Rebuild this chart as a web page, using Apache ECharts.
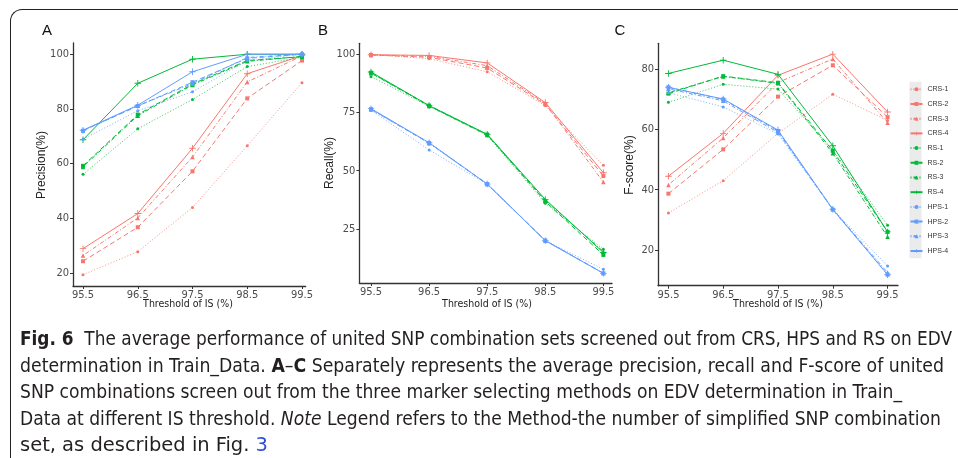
<!DOCTYPE html>
<html>
<head>
<meta charset="utf-8">
<script src="https://cdn.jsdelivr.net/npm/echarts@6/dist/echarts.min.js"></script>
<style>
  html, body { margin: 0; padding: 0; background: #fff; }
  #wrap { position: relative; width: 958px; height: 458px; overflow: hidden; }
  #chart { position: absolute; left: 0; top: 0; width: 958px; height: 458px; }
  #frame {
    position: absolute; left: 10px; top: 9px; width: 1000px; height: 500px;
    border-left: 1.5px solid #222; border-top: 1.5px solid #222;
    border-top-left-radius: 12px; pointer-events: none;
  }
  #caption {
    position: absolute; left: 20px; top: 326px; color: #231f20;
    font-family: "Liberation Sans Narrow", "DejaVu Sans Condensed", "Liberation Sans", sans-serif;
    font-size: 19.5px;
  }
  #caption .ln { height: 26.6px; line-height: 26.6px; white-space: nowrap; }
  #caption .ln span.t { display: inline-block; transform-origin: left center; }
  #caption a { color: #2f4fd6; text-decoration: none; }
</style>
</head>
<body>
<div id="wrap">
  <div id="chart"></div>
  <div id="frame"></div>
  <div id="caption">
    <div class="ln"><span class="t" data-w="932"><b>Fig. 6</b>&nbsp; The average performance of united SNP combination sets screened out from CRS, HPS and RS on EDV</span></div>
    <div class="ln"><span class="t" data-w="924">determination in Train_Data. <b>A</b>–<b>C</b> Separately represents the average precision, recall and F-score of united</span></div>
    <div class="ln"><span class="t" data-w="882">SNP combinations screen out from the three marker selecting methods on EDV determination in Train_</span></div>
    <div class="ln"><span class="t" data-w="921">Data at different IS threshold. <i>Note</i> Legend refers to the Method-the number of simplified SNP combination</span></div>
    <div class="ln"><span class="t" data-w="248">set, as described in Fig. <a>3</a></span></div>
  </div>
</div>
<script>
// x values (threshold of IS, %)
const thresholds = [95.5, 96.5, 97.5, 98.5, 99.5];
const xTicks = [95.5, 96.5, 97.5, 98.5, 99.5];
const methods = ["CRS", "RS", "HPS"];

// rows = simplified set 1..4
const precisionCRS = [[19.5, 27.9, 44.0, 66.5, 89.5], [24.4, 36.8, 57.2, 83.8, 97.6], [26.5, 40.2, 62.4, 89.8, 99.3], [29.0, 41.8, 65.6, 92.8, 99.4]];
const precisionRS = [[56.1, 72.7, 83.4, 95.4, 98.8], [59.2, 77.9, 89.0, 97.6, 99.0], [58.8, 77.5, 88.7, 97.3, 99.1], [68.7, 89.3, 98.1, 99.9, 99.9]];
const precisionHPS = [[68.9, 79.3, 86.2, 97.6, 99.9], [72.0, 81.0, 89.7, 98.4, 99.9], [72.1, 81.1, 89.2, 98.7, 100], [72.2, 81.3, 93.5, 99.9, 99.9]];

const recallCRS = [[99.8, 98.0, 92.4, 77.9, 52.3], [99.6, 98.6, 94.0, 78.4, 47.7], [99.6, 99.0, 95.0, 78.8, 45.1], [99.7, 99.4, 96.2, 79.2, 49.1]];
const recallRS = [[90.3, 77.6, 65.1, 36.0, 16.3], [92.0, 77.9, 65.5, 36.8, 13.9], [91.8, 77.7, 65.3, 37.2, 15.3], [92.3, 77.9, 65.6, 37.7, 14.9]];
const recallHPS = [[76.0, 58.9, 44.2, 20.0, 7.7], [76.4, 61.9, 44.3, 20.1, 6.0], [76.2, 61.8, 44.2, 20.0, 6.1], [76.6, 62.0, 44.3, 20.0, 6.0]];

const fscoreCRS = [[32.3, 43.0, 58.7, 71.7, 63.0], [38.7, 53.4, 70.9, 81.3, 64.1], [41.6, 57.2, 75.6, 83.4, 62.2], [44.5, 58.7, 78.0, 85.0, 65.8]];
const fscoreRS = [[69.0, 75.0, 73.4, 53.2, 28.2], [71.9, 77.7, 75.5, 52.9, 26.0], [72.2, 77.6, 75.3, 52.1, 24.4], [78.6, 83.0, 78.3, 54.6, 26.0]];
const fscoreHPS = [[72.2, 67.5, 58.5, 33.5, 14.7], [74.0, 70.0, 59.5, 33.4, 11.8], [73.5, 69.5, 59.0, 33.6, 12.5], [74.0, 70.1, 59.8, 33.5, 11.8]];

const precisionTicks = [20, 40, 60, 80, 100];
const recallTicks = [25, 50, 75, 100];
const fscoreTicks = [20, 40, 60, 80];

const colors = { CRS: "#F8766D", RS: "#00BA38", HPS: "#619CFF" };
const plus = "path://M4.3,0h1.4v4.3h4.3v1.4h-4.3v4.3h-1.4v-4.3h-4.3v-1.4h4.3z";
const symbols = ["circle", "rect", "triangle", plus];
const symbolSizes = [3, 4, 4.5, 6.5];
const dashes = [[1, 2], [5, 3], [1, 2, 4, 2], "solid"];

const panels = [
  { data: { CRS: precisionCRS, RS: precisionRS, HPS: precisionHPS }, ticks: precisionTicks,
    grid: { left: 73, top: 43, width: 232.7, height: 243 }, x: [95.317, 99.568], y: [15.37, 104] },
  { data: { CRS: recallCRS, RS: recallRS, HPS: recallHPS }, ticks: recallTicks,
    grid: { left: 359.4, top: 43.3, width: 252.6, height: 239.7 }, x: [95.3, 99.648], y: [1.86, 104.6] },
  { data: { CRS: fscoreCRS, RS: fscoreRS, HPS: fscoreHPS }, ticks: fscoreTicks,
    grid: { left: 658, top: 43.3, width: 240, height: 242.4 }, x: [95.31, 99.69], y: [8.15, 88.6] }
];

const axisFont = "'Liberation Sans Narrow', 'DejaVu Sans Condensed', sans-serif";
const axisLine = { lineStyle: { color: "#333", width: 1.3 } };
const axisTick = { length: 3, lineStyle: { color: "#333", width: 1 } };

const grids = [], xAxes = [], yAxes = [], series = [];
panels.forEach((p, pi) => {
  grids.push(p.grid);
  xAxes.push({
    type: "value", gridIndex: pi, min: p.x[0], max: p.x[1],
    splitLine: { show: false }, axisLine: { ...axisLine, onZero: false },
    axisTick: { ...axisTick, customValues: xTicks },
    axisLabel: { customValues: xTicks, formatter: v => v.toFixed(1), color: "#4d4d4d",
      fontSize: 11, fontFamily: axisFont, margin: 4 }
  });
  yAxes.push({
    type: "value", gridIndex: pi, min: p.y[0], max: p.y[1],
    splitLine: { show: false }, axisLine: { ...axisLine, onZero: false },
    axisTick: { ...axisTick, customValues: p.ticks },
    axisLabel: { customValues: p.ticks, color: "#4d4d4d", fontSize: 11, fontFamily: axisFont, margin: 4 }
  });
  methods.forEach(m => {
    p.data[m].forEach((row, i) => {
      series.push({
        name: m + "-" + (i + 1), type: "line", xAxisIndex: pi, yAxisIndex: pi,
        data: thresholds.map((t, k) => [t, row[k]]),
        symbol: symbols[i], symbolSize: symbolSizes[i],
        lineStyle: { color: colors[m], width: 1, type: dashes[i], opacity: i === 0 ? 0.8 : 1 },
        itemStyle: { color: colors[m] },
        emphasis: { disabled: true }, animation: false
      });
    });
  });
});

const legendNames = [];
methods.forEach(m => [1, 2, 3, 4].forEach(i => legendNames.push(m + "-" + i)));

const chart = echarts.init(document.getElementById("chart"));
chart.setOption({
  animation: false,
  grid: grids,
  xAxis: xAxes,
  yAxis: yAxes,
  series: series,
  legend: {
    data: legendNames, orient: "vertical", left: 909.5, top: 85.8, padding: 0,
    itemWidth: 12, itemHeight: 5, itemGap: 7.7,
    textStyle: { fontSize: 7, color: "#333", fontFamily: "'Liberation Sans', sans-serif" },
    selectedMode: false
  },
  graphic: [
    { type: "rect", shape: { x: 909.5, y: 81.7, width: 12, height: 176.6 }, style: { fill: "#ebebeb" }, z: -1 },
    { type: "text", x: 47, y: 31, style: { text: "A", font: "15px 'Liberation Sans', sans-serif", fill: "#111", align: "center", verticalAlign: "middle" } },
    { type: "text", x: 323, y: 31, style: { text: "B", font: "15px 'Liberation Sans', sans-serif", fill: "#111", align: "center", verticalAlign: "middle" } },
    { type: "text", x: 620, y: 31, style: { text: "C", font: "15px 'Liberation Sans', sans-serif", fill: "#111", align: "center", verticalAlign: "middle" } },
    { type: "text", x: 42, y: 165, rotation: Math.PI / 2, style: { text: "Precision(%)", font: "12px 'Liberation Sans', sans-serif", fill: "#222", align: "center", verticalAlign: "middle" } },
    { type: "text", x: 330, y: 163, rotation: Math.PI / 2, style: { text: "Recall(%)", font: "12px 'Liberation Sans', sans-serif", fill: "#222", align: "center", verticalAlign: "middle" } },
    { type: "text", x: 630, y: 165, rotation: Math.PI / 2, style: { text: "F-score(%)", font: "12px 'Liberation Sans', sans-serif", fill: "#222", align: "center", verticalAlign: "middle" } },
    { type: "text", x: 188, y: 304, style: { text: "Threshold of IS (%)", font: "10.5px 'Liberation Sans Narrow', 'DejaVu Sans Condensed', sans-serif", fill: "#222", align: "center", verticalAlign: "middle" } },
    { type: "text", x: 487, y: 304, style: { text: "Threshold of IS (%)", font: "10.5px 'Liberation Sans Narrow', 'DejaVu Sans Condensed', sans-serif", fill: "#222", align: "center", verticalAlign: "middle" } },
    { type: "text", x: 778, y: 304, style: { text: "Threshold of IS (%)", font: "10.5px 'Liberation Sans Narrow', 'DejaVu Sans Condensed', sans-serif", fill: "#222", align: "center", verticalAlign: "middle" } }
  ]
});

// squeeze caption lines to the widths of the printed figure
document.querySelectorAll("#caption span.t").forEach(el => {
  const w = el.getBoundingClientRect().width;
  el.style.transform = "scaleX(" + (+el.dataset.w / w) + ")";
});
</script>
</body>
</html>
